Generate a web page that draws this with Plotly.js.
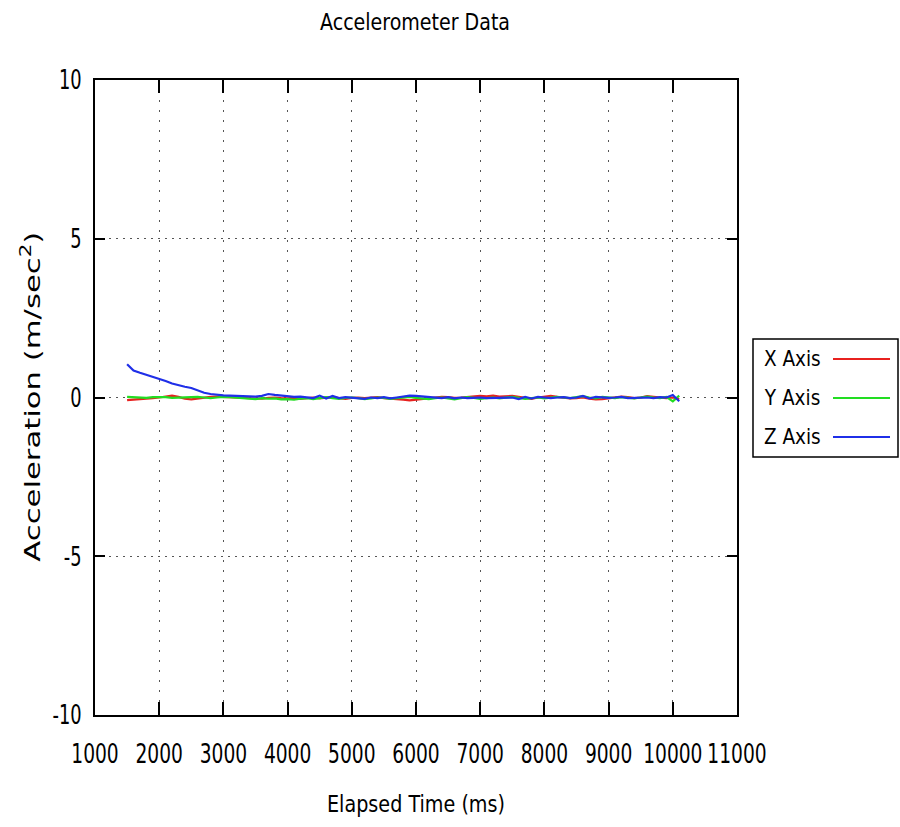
<!DOCTYPE html>
<html>
<head>
<meta charset="utf-8">
<script src="https://cdn.plot.ly/plotly-3.0.1.min.js"></script>
<style>
  html, body { margin: 0; padding: 0; background: #fff; }
  #chart { width: 900px; height: 827px; }
</style>
</head>
<body>
<div id="chart"></div>
<script>
// ---- data ----
const chartTitle = "Accelerometer Data";
const xTitle = "Elapsed Time (ms)";
const yTitle = "Acceleration (m/sec<sup>2</sup>)";
const seriesNames = ["X Axis", "Y Axis", "Z Axis"];
const seriesColors = ["#e8211f", "#22dd22", "#1f2fe8"];
const xTickVals = [1000, 2000, 3000, 4000, 5000, 6000, 7000, 8000, 9000, 10000, 11000];
const yTickVals = [-10, -5, 0, 5, 10];

const timeMs = [
  1500, 1600, 1700, 1800, 1900, 2000, 2100, 2200, 2300, 2400,
  2500, 2600, 2700, 2800, 2900, 3000, 3100, 3200, 3300, 3400,
  3500, 3600, 3700, 3800, 3900, 4000, 4100, 4200, 4300, 4400,
  4500, 4600, 4700, 4800, 4900, 5000, 5100, 5200, 5300, 5400,
  5500, 5600, 5700, 5800, 5900, 6000, 6100, 6200, 6300, 6400,
  6500, 6600, 6700, 6800, 6900, 7000, 7100, 7200, 7300, 7400,
  7500, 7600, 7700, 7800, 7900, 8000, 8100, 8200, 8300, 8400,
  8500, 8600, 8700, 8800, 8900, 9000, 9100, 9200, 9300, 9400,
  9500, 9600, 9700, 9800, 9900, 10000, 10100
];

const accelX = [
  -0.08, -0.07, -0.05, -0.03, -0.02, 0.00, 0.03, 0.06, 0.02, -0.04,
  -0.06, -0.03, 0.00, 0.02, 0.03, 0.02, 0.01, 0.00, -0.02, -0.03,
  -0.02, -0.04, -0.01, 0.00, -0.02, -0.03, -0.01, -0.04, -0.02, 0.00,
  -0.03, -0.01, 0.02, -0.02, -0.04, -0.01, 0.00, -0.02, -0.01, 0.01,
  -0.02, -0.03, -0.05, -0.07, -0.09, -0.07, -0.04, -0.02, 0.00, 0.02,
  0.01, -0.01, 0.00, 0.02, 0.04, 0.05, 0.04, 0.06, 0.03, 0.04,
  0.05, 0.02, -0.01, -0.04, 0.00, 0.03, 0.05, 0.02, -0.01, -0.03,
  -0.02, 0.00, -0.04, -0.06, -0.05, -0.02, 0.00, 0.03, 0.01, -0.02,
  0.00, 0.04, 0.02, 0.00, -0.02, 0.00, -0.05
];

const accelY = [
  0.02, 0.01, 0.00, -0.01, 0.01, 0.02, 0.01, -0.01, 0.00, 0.02,
  0.03, 0.02, 0.00, -0.02, 0.00, 0.02, 0.01, 0.00, -0.01, -0.03,
  -0.05, -0.02, -0.04, -0.03, -0.06, -0.05, -0.07, -0.04, -0.02, -0.05,
  -0.03, 0.01, -0.02, -0.04, -0.01, 0.00, -0.02, -0.05, -0.03, 0.00,
  -0.01, -0.04, -0.02, 0.00, 0.02, -0.01, -0.03, -0.05, -0.02, 0.00,
  -0.03, -0.06, -0.02, 0.01, -0.01, -0.04, -0.02, 0.00, -0.03, -0.01,
  0.02, -0.01, -0.04, -0.02, 0.00, -0.03, -0.01, 0.02, 0.00, -0.02,
  0.01, 0.04, 0.00, -0.03, 0.02, 0.00, -0.02, 0.01, 0.00, -0.03,
  0.00, 0.03, 0.00, -0.02, 0.02, -0.12, 0.06
];

const accelZ = [
  1.05, 0.85, 0.78, 0.72, 0.66, 0.60, 0.52, 0.44, 0.38, 0.34,
  0.30, 0.22, 0.15, 0.11, 0.08, 0.07, 0.06, 0.05, 0.05, 0.04,
  0.03, 0.05, 0.11, 0.08, 0.06, 0.04, 0.02, 0.03, 0.00, -0.02,
  0.06, -0.03, 0.05, -0.02, 0.01, 0.00, -0.01, -0.04, 0.00, -0.02,
  0.01, -0.03, 0.00, 0.02, 0.06, 0.05, 0.03, 0.02, 0.00, -0.02,
  0.01, -0.03, 0.00, -0.02, -0.01, 0.00, -0.02, -0.01, 0.00, 0.01,
  0.00, -0.05, 0.02, -0.03, 0.02, 0.00, -0.02, 0.00, 0.01, -0.02,
  0.00, 0.05, -0.03, 0.02, 0.00, -0.01, 0.00, 0.02, -0.02, -0.01,
  0.01, 0.00, -0.02, 0.01, 0.00, 0.08, -0.12
];

const seriesValues = [accelX, accelY, accelZ];

// ---- layout helpers ----
const W = 900, H = 827;
const M = { l: 95, r: 163, t: 80, b: 112 };
const plotW = W - M.l - M.r, plotH = H - M.t - M.b;
const px2paperX = px => (px - M.l) / plotW;
const px2paperY = py => (H - M.b - py) / plotH;

const baseFont = "DejaVu Sans, sans-serif";

const traces = seriesNames.map((name, i) => ({
  type: "scatter",
  mode: "lines",
  name: name,
  x: timeMs,
  y: seriesValues[i],
  line: { color: seriesColors[i], width: 2.2 },
  showlegend: false
}));

// custom legend (text left, line sample right, boxed)
const legendRowsPx = [359, 398, 437];
const annotations = seriesNames.map((name, i) => ({
  xref: "paper", yref: "paper",
  x: px2paperX(792), y: px2paperY(legendRowsPx[i]),
  xanchor: "center", yanchor: "middle",
  text: name, showarrow: false,
  font: { family: baseFont, size: 21, color: "#000" }
}));
// y-axis title as rotated annotation (index 3)
annotations.push({
  xref: "paper", yref: "paper",
  x: px2paperX(31), y: px2paperY(397),
  xanchor: "center", yanchor: "middle",
  textangle: -90,
  text: yTitle, showarrow: false,
  font: { family: baseFont, size: 22, color: "#000" }
});

const shapes = seriesNames.map((name, i) => ({
  type: "line", xref: "paper", yref: "paper",
  x0: px2paperX(833), x1: px2paperX(890),
  y0: px2paperY(legendRowsPx[i]), y1: px2paperY(legendRowsPx[i]),
  line: { color: seriesColors[i], width: 2 }
}));
shapes.push({
  type: "rect", xref: "paper", yref: "paper",
  x0: px2paperX(753), x1: px2paperX(898),
  y0: px2paperY(457), y1: px2paperY(339),
  line: { color: "#000", width: 1.5 }
});

const layout = {
  width: W, height: H,
  margin: M,
  paper_bgcolor: "#fff",
  plot_bgcolor: "#fff",
  showlegend: false,
  title: {
    text: chartTitle,
    font: { family: baseFont, size: 23, color: "#000" },
    x: 415 / W, xanchor: "center",
    y: 1 - 22 / H, yanchor: "middle",
    yref: "container", xref: "container"
  },
  xaxis: {
    range: [1000, 11000],
    tickvals: xTickVals,
    ticktext: xTickVals.map(String),
    tickangle: 0,
    ticks: "inside", ticklen: 13, tickwidth: 2, tickcolor: "#000",
    showline: true, linecolor: "#000", linewidth: 2, mirror: "ticks",
    showgrid: true, gridcolor: "#555", gridwidth: 1, griddash: "2px,8px",
    zeroline: false,
    tickfont: { family: baseFont, size: 27, color: "#000" },
    ticklabelstandoff: 14,
    automargin: false,
    title: {
      text: xTitle,
      font: { family: baseFont, size: 23, color: "#000" },
      standoff: 27
    }
  },
  yaxis: {
    range: [-10, 10],
    tickvals: yTickVals,
    ticktext: yTickVals.map(String),
    ticks: "inside", ticklen: 10, tickwidth: 2, tickcolor: "#000",
    showline: true, linecolor: "#000", linewidth: 2, mirror: "ticks",
    showgrid: true, gridcolor: "#555", gridwidth: 1, griddash: "2px,5px",
    zeroline: false,
    tickfont: { family: baseFont, size: 27, color: "#000" },
    ticklabelstandoff: 6,
    automargin: false
  },
  annotations: annotations,
  shapes: shapes
};

// squeeze horizontal texts (reference glyphs are narrow) and stretch the vertical title
function fitText(el, factor, absLen) {
  const w = el.getComputedTextLength();
  if (!w) return;
  el.setAttribute("textLength", absLen ? absLen : w * factor);
  el.setAttribute("lengthAdjust", "spacingAndGlyphs");
}

Plotly.newPlot("chart", traces, layout, { displayModeBar: false, staticPlot: true }).then(() => {
  const root = document.getElementById("chart");
  root.querySelectorAll(".xtick text").forEach(t => fitText(t, 0.69));
  root.querySelectorAll(".ytick text").forEach(t => fitText(t, 0.66));
  root.querySelectorAll(".gtitle").forEach(t => fitText(t, 0, 190));
  root.querySelectorAll(".g-xtitle text").forEach(t => fitText(t, 0, 178));
  root.querySelectorAll(".annotation").forEach(g => {
    const idx = Number(g.getAttribute("data-index"));
    const t = g.querySelector(".annotation-text");
    if (!t) return;
    if (idx === 3) fitText(t, 0, 330);
    else fitText(t, 0.88);
  });
});
</script>
</body>
</html>
